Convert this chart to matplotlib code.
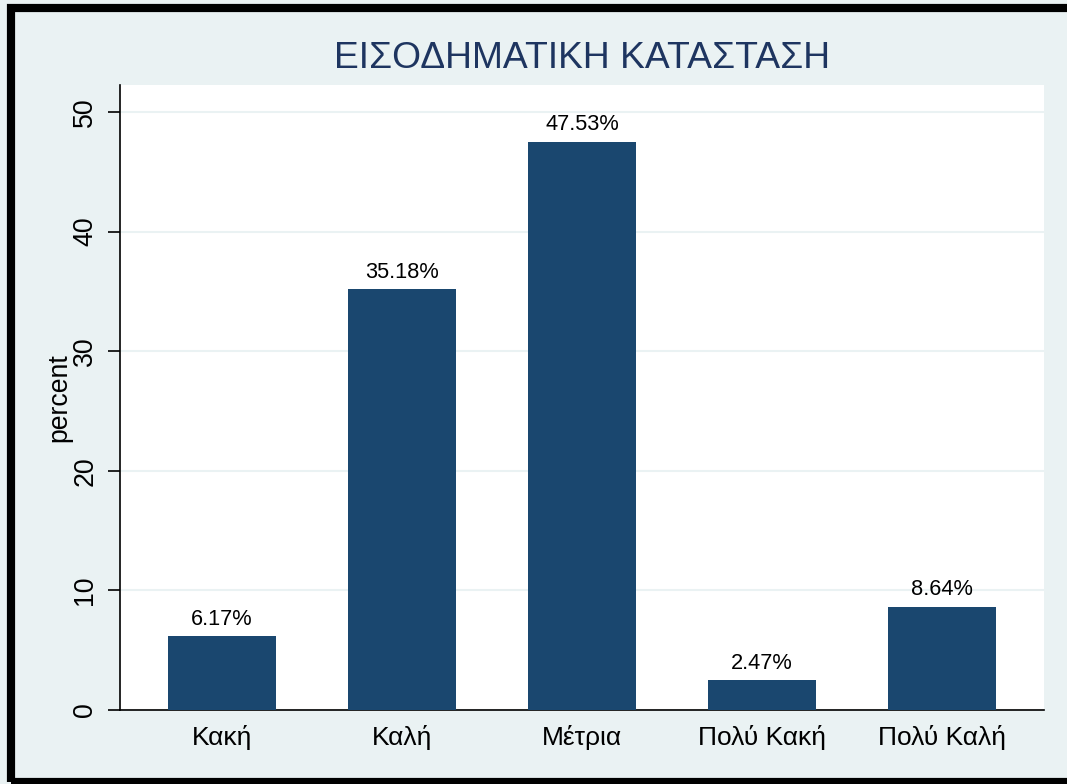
import matplotlib
matplotlib.use("Agg")
import matplotlib.pyplot as plt
from matplotlib.patches import Rectangle

categories = ["Κακή", "Καλή", "Μέτρια", "Πολύ Κακή", "Πολύ Καλή"]
values = [6.17, 35.18, 47.53, 2.47, 8.64]
labels = ["6.17%", "35.18%", "47.53%", "2.47%", "8.64%"]
yticks = [0, 10, 20, 30, 40, 50]

BG = "#EAF2F3"
BAR = "#1A476F"
TITLE = "#1E3560"

plt.rcParams['font.family'] = ['Liberation Sans', 'DejaVu Sans']

fig = plt.figure(figsize=(10.67, 7.84), dpi=100, facecolor=BG)
ax = fig.add_axes([120/1067, (784-710)/784, (1044-120)/1067, (710-85)/784])
ax.set_facecolor("white")

x = list(range(len(categories)))
ax.bar(x, values, width=0.6, color=BAR, zorder=3)
for xi, v, lab in zip(x, values, labels):
    ax.annotate(lab, (xi, v), xytext=(0, 4.8), textcoords="offset points",
                ha="center", va="bottom", fontsize=15.7)

ax.set_xlim(-0.567, 4.567)
ax.set_ylim(0, 52.26)
ax.set_yticks(yticks)
ax.set_yticklabels([str(t) for t in yticks], rotation=90, va="center", fontsize=19.3)
ax.set_xticks(x)
ax.set_xticklabels(categories, fontsize=19)
ax.tick_params(axis="x", length=0, pad=11)
ax.tick_params(axis="y", length=8.6, width=1.2, pad=7)
ax.yaxis.grid(True, color=BG, linewidth=1.5, zorder=0)
ax.set_axisbelow(True)
for s in ["top", "right"]:
    ax.spines[s].set_visible(False)
for s in ["left", "bottom"]:
    ax.spines[s].set_linewidth(1.2)
ax.set_ylabel("percent", fontsize=19.2, labelpad=0)

fig.text(582/1067, 1 - 59/784, "ΕΙΣΟΔΗΜΑΤΙΚΗ ΚΑΤΑΣΤΑΣΗ", ha="center", va="center",
         fontsize=26.8, color=TITLE)

# outer black frame (left, top, bottom; right edge cropped off)
fig.patches.append(Rectangle((11/1067, (784 - 781.5)/784), (1080 - 11)/1067, (781.5 - 8)/784,
                             transform=fig.transFigure, fill=False,
                             edgecolor="black", linewidth=5.9, clip_on=False))

fig.savefig("out.png", dpi=100, facecolor=BG)
